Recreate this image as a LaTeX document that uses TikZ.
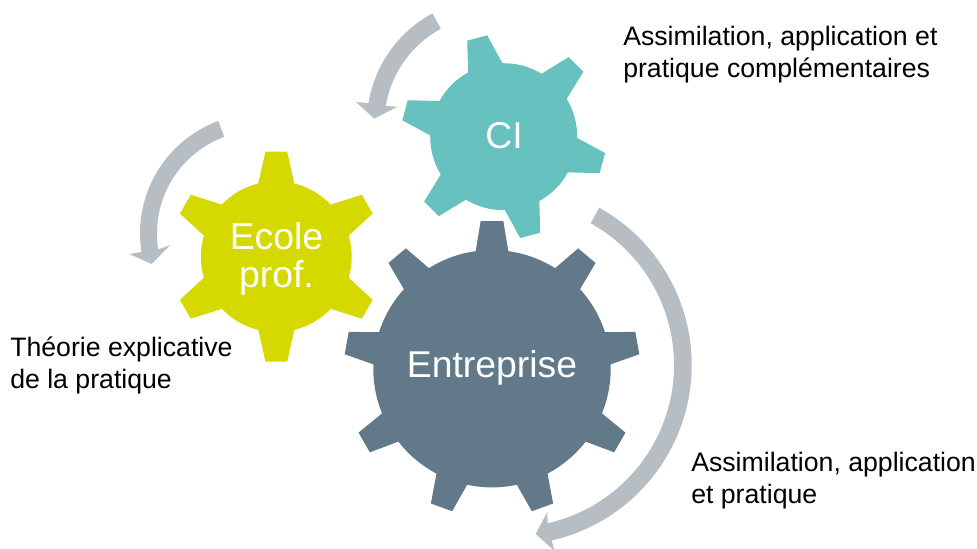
\documentclass[tikz,border=0pt]{standalone}
\usepackage{fontspec}
\usetikzlibrary{calc}
\setmainfont{Liberation Sans}
\definecolor{gearteal}{HTML}{66C1BF}
\definecolor{gearlime}{HTML}{D5D900}
\definecolor{gearslate}{HTML}{62798A}
\definecolor{arrowgrey}{HTML}{B6BEC4}
\tikzset{
  gearlabel/.style={text=white,inner sep=0.75pt,align=center,font=\fontsize{28}{28.7}\selectfont},
  sidelabel/.style={text=black,anchor=north west,inner sep=0.75pt,align=left,font=\fontsize{20}{24}\selectfont},
}
% colour, centre, inner radius, outer radius, first tooth, step, half base, half top, last tooth number
\newcommand{\gearshape}[9]{
  \fill[#1,shift={#2}] ({#5-#7}:#3)
    \foreach \toothnum [evaluate=\toothnum as \toothangle using #5+\toothnum*#6] in {0,...,#9} {
      -- ({\toothangle-#7}:#3) -- ({\toothangle-#8}:#4) -- ({\toothangle+#8}:#4) -- ({\toothangle+#7}:#3)
      arc[start angle={\toothangle+#7},end angle={\toothangle+#6-#7},radius=#3]
    } -- cycle;
}
% centre, outer radius, inner radius, tail angle, neck angle, head points
\newcommand{\bentarrow}[8]{
  \fill[arrowgrey] ($#1+(#4:#2)$) arc[start angle=#4,end angle=#5,radius=#2]
    -- #6 -- #7 -- #8 -- ($#1+(#5:#3)$) arc[start angle=#5,end angle=#4,radius=#3] -- cycle;
}
\begin{document}
\begin{tikzpicture}[x=0.75pt,y=0.75pt,yscale=-1,xscale=1]
\path[use as bounding box,clip] (0,0) rectangle (977,549);

%Shape: Gears
\gearshape{gearslate}{(492,368.7)}{118.7}{148}{-90}{40}{7.9}{4.4}{8}
\gearshape{gearlime}{(276.3,256.7)}{75.4}{105.6}{-90}{60}{13.8}{5.9}{5}
\gearshape{gearteal}{(503.7,136.7)}{73.5}{102.7}{-105}{60}{14}{5.8}{5}

%Shape: Circular Arrows
\bentarrow{(491.7,123.3)}{124.9}{107.3}{-118.3}{-170.7}{(356,102)}{(374.3,118.7)}{(397.3,106.7)}
\bentarrow{(259.7,233.3)}{119.7}{102.7}{-110.2}{-189}{(129.3,254)}{(151.7,264)}{(170,245.3)}
\bentarrow{(511.7,365)}{180}{162.3}{-60.9}{77.2}{(554.7,551)}{(535.7,534)}{(547.3,512)}

% Text Node
\node[gearlabel] (ci) at (504,136) {CI};
% Text Node
\node[gearlabel] (ecole) at (276.5,258.5) {Ecole\\prof.};
% Text Node
\node[gearlabel] (entreprise) at (492,368) {Entreprise};
% Text Node
\node[sidelabel] (complement) at (622,25) {Assimilation, application et\\pratique complémentaires};
% Text Node
\node[sidelabel] (theorie) at (9,336) {Théorie explicative\\de la pratique};
% Text Node
\node[sidelabel] (pratique) at (690,451) {Assimilation, application\\et pratique};

\end{tikzpicture}
\end{document}
